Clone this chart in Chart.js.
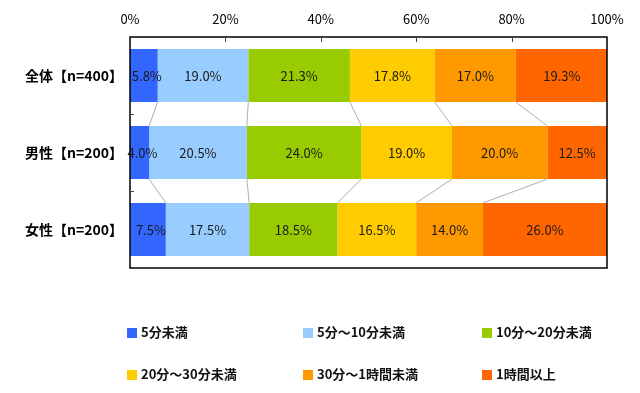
<!DOCTYPE html>
<html><head><meta charset="utf-8">
<script src="https://cdn.jsdelivr.net/npm/chart.js@4"></script>
<style>
body{margin:0;background:#fff;}
#wrap{position:relative;width:640px;height:393px;}
canvas{position:absolute;left:0;top:0;}
.lg{position:absolute;font:bold 13px 'Noto Sans CJK JP',sans-serif;color:#111;white-space:nowrap;line-height:16px;}
.lg i{display:inline-block;width:10px;height:10px;margin-right:4px;vertical-align:-1px;}
</style></head>
<body><div id="wrap"><canvas id="c" width="640" height="393"></canvas></div>
<script>
const categories = ['全体【n=400】','男性【n=200】','女性【n=200】'];
const seriesNames = ['5分未満','5分～10分未満','10分～20分未満','20分～30分未満','30分～1時間未満','1時間以上'];
const seriesColors = ['#3366ff','#99ccff','#99cc00','#ffcc00','#ff9900','#ff6600'];
const s1 = [5.8, 4.0, 7.5];
const s2 = [19.0, 20.5, 17.5];
const s3 = [21.3, 24.0, 18.5];
const s4 = [17.8, 19.0, 16.5];
const s5 = [17.0, 20.0, 14.0];
const s6 = [19.3, 12.5, 26.0];
const seriesValues = [s1,s2,s3,s4,s5,s6];
const xTicks = [0,20,40,60,80,100];

const FONT = "'Noto Sans CJK JP', sans-serif";

// legend (HTML)
const legendPos = [[127,324],[303,324],[482,324],[127,366],[303,366],[482,366]];
const wrap = document.getElementById('wrap');
seriesNames.forEach((n,i)=>{
  const d = document.createElement('div');
  d.className='lg';
  d.style.left = legendPos[i][0]+'px';
  d.style.top = legendPos[i][1]+'px';
  d.innerHTML = '<i style="background:'+seriesColors[i]+'"></i>'+n;
  wrap.appendChild(d);
});

const decor = {
  id:'decor',
  afterDatasetsDraw(chart){
    const ctx = chart.ctx, a = chart.chartArea;
    const xs = chart.scales.x, ys = chart.scales.y;
    ctx.save();
    // connector lines
    ctx.strokeStyle = '#999'; ctx.lineWidth = 0.8;
    for (let c=0;c<categories.length-1;c++){
      let cumA=0, cumB=0;
      for (let d=0; d<seriesValues.length-1; d++){
        cumA += seriesValues[d][c]; cumB += seriesValues[d][c+1];
        const eA = chart.getDatasetMeta(d).data[c];
        const eB = chart.getDatasetMeta(d).data[c+1];
        ctx.beginPath();
        ctx.moveTo(xs.getPixelForValue(cumA), eA.y + eA.height/2);
        ctx.lineTo(xs.getPixelForValue(cumB), eB.y - eB.height/2);
        ctx.stroke();
      }
    }
    // labels
    ctx.fillStyle = '#1a1a1a';
    ctx.font = '13px ' + FONT;
    ctx.textAlign='center'; ctx.textBaseline='middle';
    seriesValues.forEach((vals,d)=>{
      chart.getDatasetMeta(d).data.forEach((el,i)=>{
        const p = el.getCenterPoint();
        ctx.fillText(vals[i].toFixed(1)+'%', p.x + (d===0 ? 3 : 0), p.y+1);
      });
    });
    // border
    ctx.strokeStyle = '#000'; ctx.lineWidth = 1.5;
    ctx.strokeRect(a.left, a.top, a.right-a.left, a.bottom-a.top);
    // top tick marks
    ctx.lineWidth = 1; ctx.strokeStyle = '#444';
    xTicks.slice(1,-1).forEach(v=>{
      const x = Math.round(xs.getPixelForValue(v))+0.5;
      ctx.beginPath(); ctx.moveTo(x,a.top); ctx.lineTo(x,a.top+5); ctx.stroke();
    });
    // left tick marks between categories
    for (let i=0;i<categories.length-1;i++){
      const y = Math.round((ys.getPixelForValue(i)+ys.getPixelForValue(i+1))/2)+0.5;
      ctx.beginPath(); ctx.moveTo(a.left,y); ctx.lineTo(a.left+4,y); ctx.stroke();
    }
    ctx.restore();
  }
};

new Chart(document.getElementById('c'), {
  type:'bar',
  data:{
    labels: categories,
    datasets: seriesNames.map((n,i)=>({label:n, data:seriesValues[i], backgroundColor:seriesColors[i], borderWidth:0, barPercentage:0.69, categoryPercentage:1}))
  },
  options:{
    indexAxis:'y',
    responsive:false,
    animation:false,
    layout:{padding:{top:0,right:33,bottom:125,left:0}},
    plugins:{legend:{display:false},tooltip:{enabled:false}},
    scales:{
      x:{
        position:'top', stacked:true, min:0, max:100,
        afterBuildTicks: s => { s.ticks = xTicks.map(v=>({value:v})); },
        afterFit: s => { s.height = 37; },
        ticks:{callback:v=>v+'%', color:'#000', font:{family:FONT,size:13}, padding:10, maxRotation:0},
        grid:{display:false, drawTicks:false},
        border:{display:false}
      },
      y:{
        stacked:true,
        afterFit: s => { s.width = 130; },
        ticks:{color:'#000', font:{family:FONT,size:14,weight:'bold'}, padding:7},
        grid:{display:false, drawTicks:false},
        border:{display:false}
      }
    }
  },
  plugins:[decor]
});
</script></body></html>
